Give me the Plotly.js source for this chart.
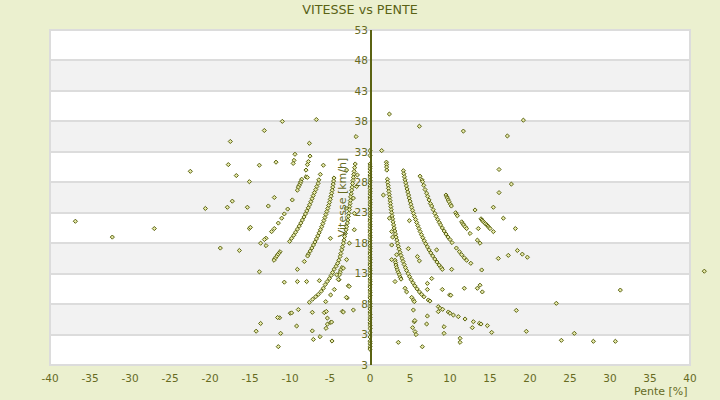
<!DOCTYPE html>
<html>
<head>
<meta charset="utf-8">
<script src="https://cdn.plot.ly/plotly-3.0.1.min.js"></script>
<style>html,body{margin:0;padding:0;background:#ebf0cf;}#chart{width:720px;height:400px;}</style>
</head>
<body>
<div id="chart"></div>
<script>
// Tick values / labels
const xTickVals = [-40,-35,-30,-25,-20,-15,-10,-5,0,5,10,15,20,25,30,35,40];
const xTickText = ['-40','-35','-30','-25','-20','-15','-10','-5','0','5','10','15','20','25','30','35','40'];
const yTickVals = [-2,3,8,13,18,23,28,33,38,43,48,53];
const yTickText = ['3','3','8','13','18','23','28','33','38','43','48','53'];

// Points with 0 % slope (vitesse km/h)
const vitessePlat = [33.2,32.4,31.0,30.6,30.2,29.7,29.2,28.8,28.3,27.9,27.4,27.0,26.5,26.1,25.6,25.2,24.7,24.3,23.8,23.4,22.9,22.5,22.0,21.6,21.1,20.7,20.2,19.8,19.3,18.9,18.4,18.0,17.5,17.1,16.6,16.2,15.7,15.3,14.8,14.4,13.9,13.5,13.0,12.6,12.1,11.7,11.2,10.8,10.3,9.9,9.4,9.0,8.5,8.1,7.6,7.2,6.7,6.3,5.8,5.4,4.9,4.5,4.0,3.3,2.6,1.9,1.5,1.0,0.6];

// Uphill points [pente %, vitesse km/h]
const monteeCourbe1 = [[2.05,31.3],[2.08,30.9],[2.08,30.5],[2.1,30.0],[2.17,28.5],[2.21,28.0],[2.26,27.5],[2.31,27.0],[2.36,26.5],[2.4,26.0],[2.46,25.5],[2.5,25.0],[2.55,24.5],[2.6,24.0],[2.65,23.5],[2.7,23.0],[2.76,22.5],[2.82,22.0],[2.88,21.5],[2.95,21.0],[3.02,20.5],[3.1,20.0],[3.18,19.5],[3.26,19.0],[3.35,18.5],[3.44,18.0],[3.54,17.5],[3.64,17.0],[3.75,16.5],[3.87,16.0],[4.0,15.5],[4.13,15.0],[4.27,14.5],[4.42,14.0],[4.58,13.5],[4.76,13.0],[4.95,12.5],[5.15,12.0],[5.37,11.5],[5.6,11.0],[5.88,10.5],[6.17,10.0],[6.45,9.6],[6.75,9.2],[7.29,8.67],[7.5,8.5],[8.54,7.58],[8.75,7.3],[9.08,7.14],[9.79,6.7],[10.0,6.5],[10.42,6.2],[11.04,5.94],[11.88,5.55],[12.92,5.11],[13.67,4.84],[13.88,4.73],[14.67,4.46],[15.21,3.36]];
const monteeCourbe1b = [[3.13,15.2],[3.2,14.8],[3.25,14.4],[3.33,14.0],[3.42,13.6],[3.54,13.2],[3.67,12.8],[3.78,12.4],[3.88,12.1],[4.38,10.6],[4.58,10.0],[5.21,9.1],[5.42,8.67],[5.54,8.4],[3.13,11.7],[5.42,7.03],[5.54,5.1],[5.6,5.3],[5.33,4.13],[5.63,3.47],[5.75,3.0]];
const monteeCourbe2 = [[4.17,29.9],[4.23,29.4],[4.3,28.9],[4.38,28.4],[4.46,27.9],[4.55,27.4],[4.63,26.9],[4.72,26.4],[4.82,25.9],[4.9,25.4],[5.0,24.9],[5.1,24.4],[5.2,23.9],[5.32,23.4],[5.44,22.9],[5.56,22.4],[5.7,21.9],[5.83,21.4],[5.97,20.9],[6.12,20.4],[6.27,19.9],[6.43,19.4],[6.6,18.9],[6.78,18.4],[6.97,17.9],[7.17,17.4],[7.38,16.9],[7.6,16.4],[7.84,15.9],[8.1,15.4],[8.37,14.9],[8.65,14.4],[8.9,14.0],[9.04,13.7]];
const monteeCourbe3 = [[6.25,29.0],[6.5,28.4],[6.58,28.1],[6.72,27.5],[6.88,26.8],[7.08,26.2],[7.2,25.7],[7.38,25.1],[7.55,24.5],[7.71,24.1],[7.9,23.5],[8.1,22.9],[8.27,22.4],[8.46,21.9],[8.66,21.4],[8.83,21.0],[9.04,20.5],[9.27,20.0],[9.5,19.5],[9.75,19.0],[10.0,18.6],[10.25,18.1],[10.8,17.2],[11.17,16.6],[11.46,16.1],[11.78,15.6],[12.08,15.2],[12.6,14.7]];
const monteeCourbe4 = [[9.5,25.9],[9.6,25.6],[9.67,25.4],[9.78,25.1],[9.88,24.8],[10.05,24.4],[10.17,24.1],[10.71,23.0],[10.83,22.7],[10.92,22.5],[11.46,21.5],[11.6,21.2],[11.7,21.0],[11.88,20.7],[12.08,20.4],[12.5,19.6],[13.42,18.5],[13.75,18.0],[13.88,22.0],[14.0,21.8],[14.13,21.6],[14.29,21.4],[14.42,21.2],[14.6,21.0],[14.75,20.8],[14.88,20.6],[15.0,20.4],[15.42,19.9]];
const monteeIsoles = [[2.42,39.2],[6.17,37.2],[11.67,36.4],[17.17,35.6],[19.17,38.2],[1.46,33.2],[16.13,30.1],[17.67,27.7],[16.13,26.3],[16.67,22.1],[18.17,20.4],[18.42,16.8],[17.29,16.0],[19.04,16.2],[19.67,15.7],[31.29,10.3],[23.29,8.13],[18.29,6.97],[19.54,3.53],[25.54,3.2],[23.92,2.05],[27.92,1.89],[30.67,1.89],[41.79,13.4],[1.67,25.9],[2.42,22.1],[2.71,19.9],[2.83,19.0],[2.71,17.7],[2.71,15.3],[3.33,16.1],[4.92,21.7],[4.79,17.1],[5.92,15.8],[6.17,15.1],[8.33,16.9],[10.21,13.7],[13.13,23.45],[13.54,20.4],[13.96,13.6],[15.42,23.9],[16.04,15.5],[7.71,12.2],[3.54,1.72],[6.54,1.0],[7.17,11.4],[7.17,10.4],[9.04,10.4],[9.96,9.5],[10.1,9.45],[11.79,10.6],[7.17,6.04],[7.08,4.73],[8.54,6.76],[9.25,4.29],[9.25,3.2],[11.25,2.38],[11.25,1.72],[12.79,4.13],[13.42,10.6],[13.75,11.1],[14.04,10.0]];

// Downhill points [pente %, vitesse km/h]
const descenteCourbe1 = [[-1.85,31.0],[-1.92,30.4],[-1.98,29.8],[-2.03,29.3],[-2.08,28.8],[-2.13,28.3],[-2.17,27.8],[-2.23,27.2],[-2.29,26.7],[-2.35,26.1],[-2.42,25.6],[-2.46,25.0],[-2.5,24.5],[-2.54,24.0],[-2.58,23.5],[-2.65,22.9],[-2.71,22.4],[-2.77,21.8],[-2.83,21.3],[-2.92,20.7],[-3.0,20.2],[-3.08,19.6],[-3.17,19.1],[-3.25,18.5],[-3.33,18.0],[-3.44,17.4],[-3.54,16.9],[-3.65,16.3],[-3.75,15.8],[-3.9,15.2],[-4.04,14.7],[-4.25,14.2],[-4.5,13.7],[-4.67,13.2],[-4.85,12.7],[-5.08,12.2],[-5.35,11.7],[-5.6,11.2],[-5.83,10.6],[-6.1,10.1],[-6.46,9.6],[-6.8,9.2],[-7.17,8.8],[-7.58,8.3],[-9.96,6.5],[-9.8,6.55],[-11.3,5.75],[-11.55,5.8],[-13.67,4.82],[-14.23,3.55]];
const descenteCourbe1b = [[-3.5,14.0],[-3.67,13.6],[-3.75,13.2],[-3.83,12.8],[-4.17,12.8],[-3.88,12.0],[-3.96,12.05],[-2.7,11.0],[-2.6,10.9],[-2.85,9.0],[-2.95,9.1],[-3.46,6.8],[-3.33,6.7],[-2.08,7.03],[-2.92,30.0],[-3.0,23.7],[-1.96,22.9],[-2.08,25.4],[-1.96,20.2],[-2.58,18.0],[-2.92,15.3],[-3.33,13.9],[-1.58,29.2],[-1.67,27.3],[-1.75,35.5],[-4.95,18.8]];
const descenteCourbe2 = [[-4.5,28.7],[-4.55,28.2],[-4.6,27.7],[-4.66,27.2],[-4.72,26.7],[-4.8,26.2],[-4.88,25.7],[-4.97,25.2],[-5.07,24.7],[-5.17,24.2],[-5.28,23.7],[-5.4,23.2],[-5.52,22.7],[-5.64,22.2],[-5.77,21.7],[-5.9,21.2],[-6.04,20.7],[-6.2,20.2],[-6.36,19.7],[-6.52,19.2],[-6.7,18.7],[-6.88,18.2],[-7.07,17.7],[-7.27,17.2],[-7.48,16.7],[-7.7,16.2],[-7.8,15.9]];
const descenteCourbe3 = [[-5.83,30.8],[-6.21,29.3],[-6.4,28.4],[-6.5,27.8],[-6.65,27.3],[-6.78,26.8],[-6.95,26.3],[-7.1,25.8],[-7.25,25.3],[-7.4,24.8],[-7.55,24.3],[-7.72,23.8],[-7.9,23.3],[-8.07,22.8],[-8.25,22.3],[-8.45,21.8],[-8.65,21.3],[-8.85,20.8],[-9.07,20.3],[-9.3,19.8],[-9.53,19.3],[-9.8,18.8],[-10.05,18.3],[-11.25,16.6],[-11.4,16.35],[-11.54,16.1],[-11.7,15.8],[-11.88,15.5],[-12.0,15.2]];
const descenteCourbe4 = [[-8.54,28.5],[-8.65,28.1],[-8.75,27.8],[-8.85,27.5],[-8.96,27.2],[-9.08,26.7],[-9.71,25.1],[-10.29,23.6],[-10.71,22.8],[-11.04,22.1],[-11.46,21.3],[-11.96,20.4],[-12.3,19.9],[-13.0,18.8],[-13.2,18.6],[-13.67,18.0]];
const descenteIsoles = [[-17.46,34.7],[-17.71,30.9],[-22.46,29.8],[-16.71,29.1],[-15.08,28.1],[-17.21,24.9],[-20.58,23.7],[-17.83,23.9],[-15.33,23.9],[-36.83,21.6],[-26.96,20.4],[-32.21,19.0],[-15.08,20.4],[-14.95,20.6],[-18.71,17.2],[-16.33,16.8],[-10.96,38.0],[-6.71,38.3],[-13.21,36.5],[-7.58,34.4],[-9.38,32.6],[-9.5,31.6],[-9.6,31.1],[-7.5,32.3],[-7.7,31.4],[-7.83,30.9],[-8.0,30.0],[-8.0,28.9],[-7.83,28.8],[-11.75,31.3],[-13.83,30.8],[-11.96,25.5],[-12.71,24.1],[-13.0,17.6],[-8.21,15.0],[-13.83,13.3],[-10.71,11.6],[-9.08,13.7],[-9.08,11.7],[-7.92,11.7],[-6.33,11.85],[-4.46,10.4],[-4.92,9.5],[-5.54,8.4],[-8.96,7.1],[-7.21,6.65],[-5.71,6.6],[-5.46,6.8],[-5.33,5.7],[-4.92,5.0],[-4.8,5.05],[-5.33,4.7],[-5.5,4.02],[-9.17,4.4],[-11.17,3.2],[-7.21,3.6],[-7.08,2.2],[-6.25,2.65],[-4.75,1.94],[-11.46,1.01]];

const X_MIN = -40, X_MAX = 40;
const groups = [monteeCourbe1, monteeCourbe1b, monteeCourbe2, monteeCourbe3, monteeCourbe4, monteeIsoles,
                descenteCourbe1, descenteCourbe1b, descenteCourbe2, descenteCourbe3, descenteCourbe4, descenteIsoles];
const xs = [], ys = [], xsOut = [], ysOut = [];
vitessePlat.forEach(v => { xs.push(0); ys.push(v); });
groups.forEach(g => g.forEach(p => {
  if (p[0] > X_MAX) { xsOut.push(p[0]); ysOut.push(p[1]); }
  else { xs.push(p[0]); ys.push(p[1]); }
}));

const olive = '#5b6313';
const textCol = '#666b1f';
const font = 'DejaVu Sans, Verdana, sans-serif';
const markerStyle = { symbol: 'diamond', size: 3.2, color: '#e6e9a8', line: { color: olive, width: 1 } };

const traceMain = { type: 'scatter', mode: 'markers', x: xs, y: ys, xaxis: 'x', yaxis: 'y',
  cliponaxis: false, hoverinfo: 'x+y', marker: markerStyle };
// points beyond the +40 % edge, drawn in the right margin strip
const traceOut = { type: 'scatter', mode: 'markers', x: xsOut, y: ysOut, xaxis: 'x2', yaxis: 'y2',
  cliponaxis: false, hoverinfo: 'x+y', marker: markerStyle };

// geometry: plot area 50..710 px, main x axis 50..690 px
const plotW = 660, mainW = 640;
const mainFrac = mainW / plotW;
const zeroPos = mainFrac * (0 - X_MIN) / (X_MAX - X_MIN);

const shapes = [{ type: 'rect', xref: 'x domain', yref: 'y domain', x0: 0, x1: 1, y0: 0, y1: 1,
  fillcolor: '#ffffff', line: { width: 0 }, layer: 'below' }];
for (let i = 1; i < yTickVals.length - 1; i += 2) {
  shapes.push({ type: 'rect', xref: 'x domain', yref: 'y', x0: 0, x1: 1, y0: yTickVals[i], y1: yTickVals[i + 1],
    fillcolor: '#f2f2f2', line: { width: 0 }, layer: 'below' });
}
shapes.push({ type: 'rect', xref: 'x domain', yref: 'y domain', x0: 0, x1: 1, y0: 0, y1: 1,
  line: { color: '#dcdcdc', width: 2 }, fillcolor: 'rgba(0,0,0,0)', layer: 'below' });

const layout = {
  width: 720, height: 400,
  paper_bgcolor: '#ebf0cf', plot_bgcolor: 'rgba(0,0,0,0)',
  margin: { l: 50, r: 10, t: 30, b: 35 },
  showlegend: false,
  title: { text: 'VITESSE vs PENTE', font: { family: font, size: 12.7, color: '#5a6216' },
           x: 0.5, xref: 'container', xanchor: 'center', y: 0.975, yref: 'container', yanchor: 'middle' },
  xaxis: { domain: [0, mainFrac], range: [X_MIN, X_MAX], tickvals: xTickVals, ticktext: xTickText, showgrid: false,
           zeroline: false, showline: false, ticks: '', ticklabelstandoff: 5,
           tickfont: { family: font, size: 10.5, color: textCol }, fixedrange: true },
  yaxis: { range: [-2, 53], tickvals: yTickVals, ticktext: yTickText, anchor: 'free', position: zeroPos,
           showline: true, linecolor: olive, linewidth: 1.5, showgrid: true, gridcolor: '#dcdcdc', gridwidth: 2,
           zeroline: false, ticks: '', tickfont: { family: font, size: 10.5, color: textCol }, fixedrange: true,
           title: { text: 'Vitesse [km/h]', font: { family: font, size: 11, color: textCol }, standoff: 4 } },
  xaxis2: { domain: [mainFrac, 1], range: [X_MAX, X_MAX + (X_MAX - X_MIN) * (plotW - mainW) / mainW],
            visible: false, anchor: 'y2', fixedrange: true },
  yaxis2: { domain: [0, 1], range: [-2, 53], visible: false, anchor: 'x2', fixedrange: true },
  shapes: shapes,
  annotations: [{ text: 'Pente [%]', xref: 'paper', yref: 'paper', x: mainFrac, y: -0.104, xanchor: 'right', yanchor: 'bottom',
                  showarrow: false, font: { family: font, size: 11, color: textCol } }]
};

Plotly.newPlot('chart', [traceMain, traceOut], layout, { displayModeBar: false, staticPlot: true });
</script>
</body>
</html>
